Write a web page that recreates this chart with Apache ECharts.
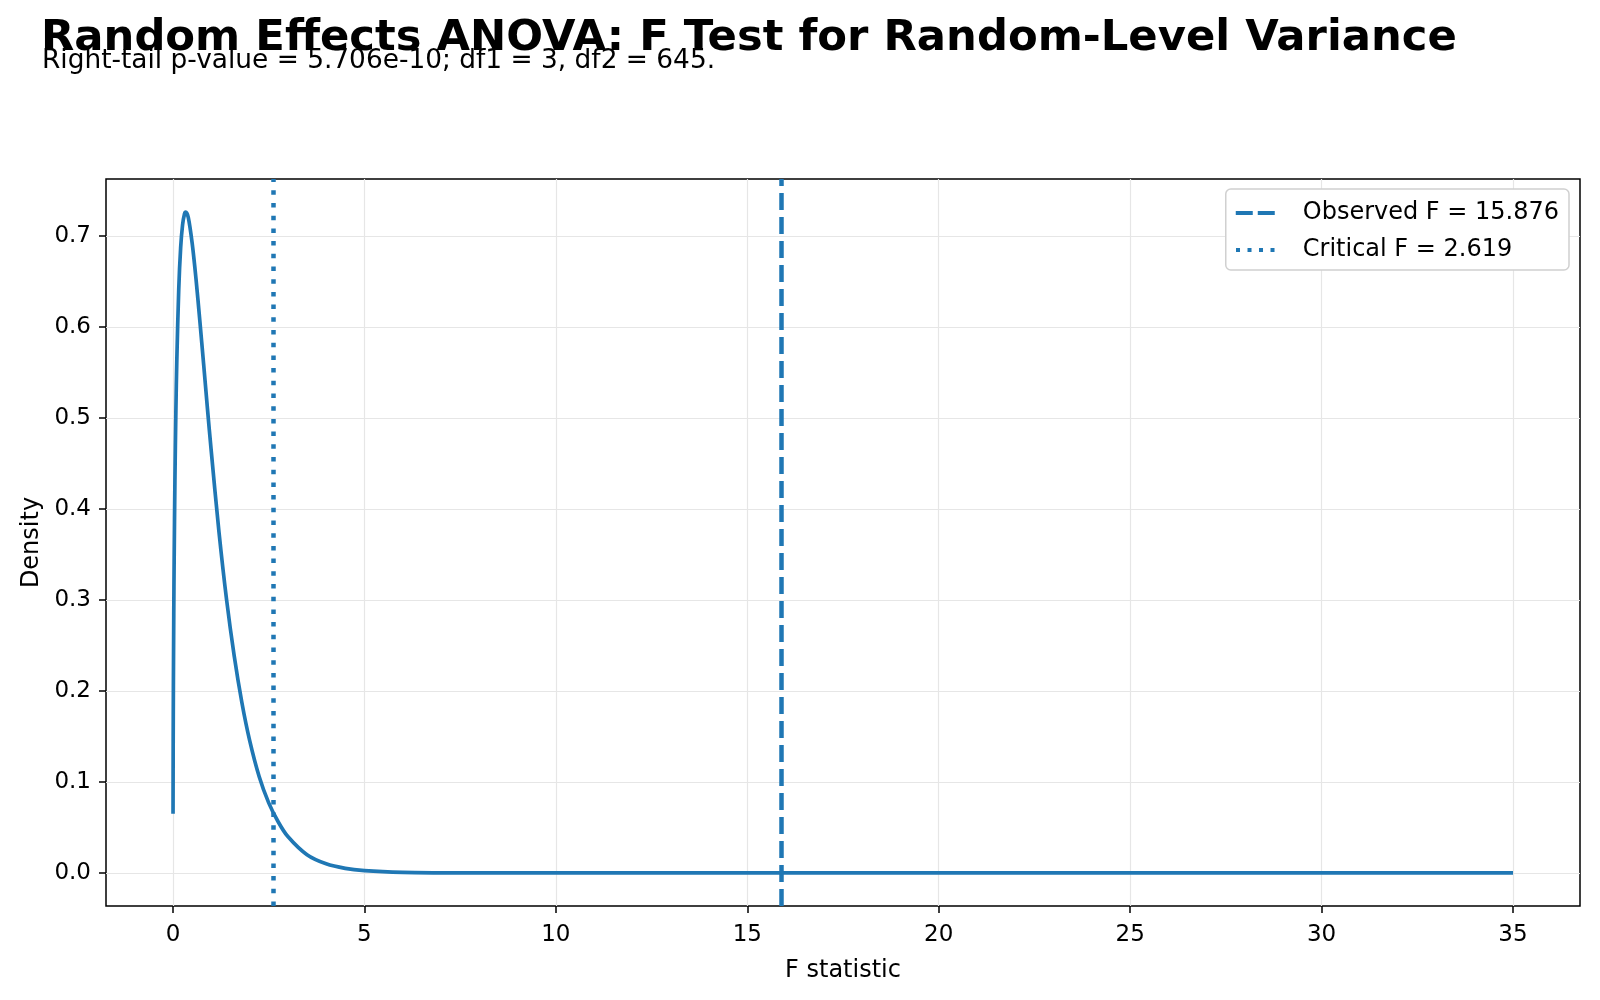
<!DOCTYPE html>
<html>
<head>
<meta charset="utf-8">
<script src="https://cdn.jsdelivr.net/npm/echarts@6/dist/echarts.min.js"></script>
<style>
  html, body { margin: 0; padding: 0; background: #fff; }
  #chart { width: 1600px; height: 1000px; }
</style>
</head>
<body>
<div id="chart"></div>
<script>
// F(3, 645) density
const fX = [0.001, 0.005, 0.01, 0.02, 0.03, 0.05, 0.075, 0.1, 0.15, 0.2, 0.25, 0.3, 0.333, 0.4, 0.5, 0.6, 0.7, 0.8, 0.9, 1.0,
  1.2, 1.4, 1.6, 1.8, 2.0, 2.25, 2.5, 2.75, 3.0, 3.5, 4.0, 4.5, 5.0, 6.0, 7.0, 8.0, 10, 15, 20, 25, 30, 35];
const fDensity = [0.065, 0.145, 0.204, 0.284, 0.343, 0.430, 0.507, 0.564, 0.641, 0.687, 0.712, 0.724, 0.726, 0.720, 0.692, 0.653, 0.607, 0.559, 0.510, 0.463,
  0.375, 0.300, 0.238, 0.187, 0.146, 0.106, 0.077, 0.056, 0.040, 0.020, 0.010, 0.005, 0.0026, 0.0006, 0.00015, 0.00004, 0, 0, 0, 0, 0, 0];

const observedF = 15.876;
const criticalF = 2.619;

const xTicks = [0, 5, 10, 15, 20, 25, 30, 35];
const yTicks = [0, 0.1, 0.2, 0.3, 0.4, 0.5, 0.6, 0.7];

const blue = '#1f77b4';
const font = 'DejaVu Sans';

const chart = echarts.init(document.getElementById('chart'));

const option = {
  animation: false,
  backgroundColor: '#fff',
  title: [
    {
      text: 'Random Effects ANOVA: F Test for Random-Level Variance',
      left: 36, top: 12,
      textStyle: { fontFamily: font, fontWeight: 'bold', fontSize: 43.3, color: '#000' }
    },
    {
      text: 'Right-tail p-value = 5.706e-10; df1 = 3, df2 = 645.',
      left: 37, top: 43,
      textStyle: { fontFamily: font, fontWeight: 'normal', fontSize: 26.4, color: '#000' }
    }
  ],
  legend: {
    orient: 'vertical',
    right: 31, top: 189,
    padding: [12, 10, 8, 10],
    itemGap: 13,
    itemWidth: 39, itemHeight: 4,
    backgroundColor: '#fff',
    borderColor: '#d0d0d0', borderWidth: 1.5, borderRadius: 5,
    textStyle: { fontFamily: font, fontSize: 24, color: '#000', padding: [0, 0, 0, 23] },
    data: [
      { name: 'Observed F = ' + observedF.toFixed(3), icon: 'path://M0,0h17v4h-17z M22,0h17v4h-17z' },
      { name: 'Critical F = ' + criticalF.toFixed(3), icon: 'path://M0,0h4v4h-4z M11.5,0h4v4h-4z M23,0h4v4h-4z M34.5,0h4v4h-4z' }
    ]
  },
  grid: { left: 106, right: 20, top: 179, bottom: 94, show: true, borderColor: '#000', borderWidth: 1.5, backgroundColor: 'transparent' },
  xAxis: {
    type: 'value',
    min: -1.75, max: 36.75,
    name: 'F statistic', nameLocation: 'middle', nameGap: 53,
    nameTextStyle: { fontFamily: font, fontSize: 24, color: '#000' },
    axisLine: { show: false, onZero: false },
    axisTick: { show: true, length: 7, inside: false, customValues: xTicks, lineStyle: { color: '#000', width: 1.5 } },
    axisLabel: { customValues: xTicks, fontFamily: font, fontSize: 23, color: '#000', margin: 18, formatter: v => String(v) },
    splitLine: { show: true, lineStyle: { color: '#e6e6e6', width: 1.2 } }
  },
  yAxis: {
    type: 'value',
    min: -0.0363, max: 0.7624,
    name: 'Density', nameLocation: 'middle', nameGap: 62, nameRotate: 90,
    nameTextStyle: { fontFamily: font, fontSize: 24, color: '#000' },
    axisLine: { show: false, onZero: false },
    axisTick: { show: true, length: 7, inside: false, customValues: yTicks, lineStyle: { color: '#000', width: 1.5 } },
    axisLabel: { customValues: yTicks, fontFamily: font, fontSize: 23, color: '#000', margin: 15, formatter: v => v.toFixed(1) },
    splitLine: { show: true, lineStyle: { color: '#e6e6e6', width: 1.2 } }
  },
  series: [
    {
      name: 'F density',
      type: 'line',
      showSymbol: false, symbol: 'none',
      smooth: 0.3,
      lineStyle: { color: blue, width: 3.7 },
      data: fX.map((x, i) => [x, fDensity[i]]),
      z: 3
    },
    {
      name: 'Observed F = ' + observedF.toFixed(3),
      type: 'line', symbol: 'none', data: [],
      itemStyle: { color: blue },
      lineStyle: { color: blue, width: 4.5, type: [17, 7] },
      markLine: {
        silent: true, symbol: 'none', label: { show: false },
        lineStyle: { color: blue, width: 4.5, type: [17, 7] },
        data: [{ xAxis: observedF }]
      },
      z: 4
    },
    {
      name: 'Critical F = ' + criticalF.toFixed(3),
      type: 'line', symbol: 'none', data: [],
      itemStyle: { color: blue },
      lineStyle: { color: blue, width: 4.5, type: [4.5, 8.2] },
      markLine: {
        silent: true, symbol: 'none', label: { show: false },
        lineStyle: { color: blue, width: 4.5, type: [4.5, 8.2] },
        data: [{ xAxis: criticalF }]
      },
      z: 4
    }
  ]
};

chart.setOption(option);
</script>
</body>
</html>
